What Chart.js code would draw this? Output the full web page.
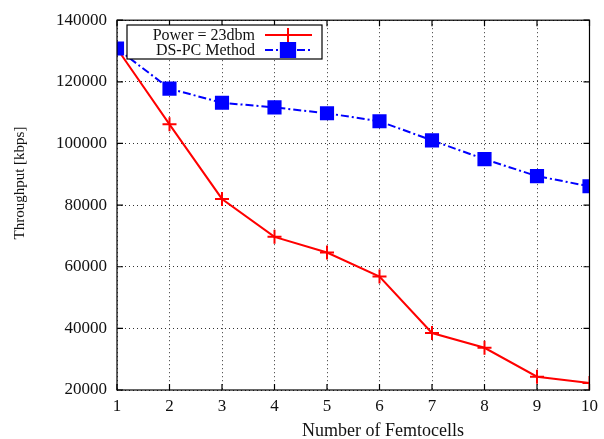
<!DOCTYPE html>
<html>
<head>
<meta charset="utf-8">
<script src="https://cdn.jsdelivr.net/npm/chart.js@4"></script>
<style>
  html, body { margin: 0; padding: 0; background: #fff; }
  #wrap { width: 604px; height: 439px; }
</style>
</head>
<body>
<div id="wrap"><canvas id="myChart" width="604" height="439"></canvas></div>
<script>
// data
const femtocells = [1, 2, 3, 4, 5, 6, 7, 8, 9, 10];
const power23dbm = [130800, 106200, 82000, 69700, 64600, 56800, 38500, 33700, 24300, 22300];
const dsPcMethod = [130800, 117800, 113200, 111700, 109800, 107200, 101000, 94900, 89400, 86100];
const yTicks = [20000, 40000, 60000, 80000, 100000, 120000, 140000];

const serif = "'Liberation Serif', 'DejaVu Serif', serif";

const toPoints = (xs, ys) => xs.map((x, i) => ({ x: x, y: ys[i] }));

// gnuplot-ish frame, inward ticks, axis titles and boxed legend
const gnuplotLook = {
  id: 'gnuplotLook',
  afterDraw(chart) {
    const ctx = chart.ctx;
    const a = chart.chartArea;
    const xs = chart.scales.x;
    const ys = chart.scales.y;
    ctx.save();

    // frame
    ctx.strokeStyle = '#000';
    ctx.lineWidth = 1.2;
    ctx.strokeRect(a.left, a.top, a.right - a.left, a.bottom - a.top);

    // inward ticks on all four sides
    const tl = 6;
    ctx.beginPath();
    femtocells.forEach(v => {
      const px = xs.getPixelForValue(v);
      ctx.moveTo(px, a.bottom); ctx.lineTo(px, a.bottom - tl);
      ctx.moveTo(px, a.top); ctx.lineTo(px, a.top + tl);
    });
    yTicks.forEach(v => {
      const py = ys.getPixelForValue(v);
      ctx.moveTo(a.left, py); ctx.lineTo(a.left + tl, py);
      ctx.moveTo(a.right, py); ctx.lineTo(a.right - tl, py);
    });
    ctx.stroke();

    // axis titles
    ctx.fillStyle = '#111';
    ctx.textAlign = 'center';
    ctx.textBaseline = 'middle';
    ctx.font = '18px ' + serif;
    ctx.fillText('Number of Femtocells', 383, 431);
    ctx.save();
    ctx.translate(20, 183);
    ctx.rotate(-Math.PI / 2);
    ctx.font = '15px ' + serif;
    ctx.fillText('Throughput [kbps]', 0, 0);
    ctx.restore();

    // legend box
    const bx = 127, by = 25, bw = 195, bh = 34;
    ctx.fillStyle = '#fff';
    ctx.fillRect(bx, by, bw, bh);
    ctx.lineWidth = 1.2;
    ctx.strokeStyle = '#000';
    ctx.strokeRect(bx, by, bw, bh);

    const rows = [35, 50];
    ctx.font = '16px ' + serif;
    ctx.textAlign = 'right';
    chart.data.datasets.forEach((ds, i) => {
      const y = rows[i];
      ctx.fillStyle = '#111';
      ctx.fillText(ds.label, 255, y + 1);
      ctx.strokeStyle = ds.borderColor;
      ctx.lineWidth = ds.borderWidth;
      ctx.setLineDash(ds.borderDash || []);
      ctx.beginPath();
      ctx.moveTo(265, y); ctx.lineTo(312, y);
      ctx.stroke();
      ctx.setLineDash([]);
      Chart.helpers.drawPoint(ctx, {
        pointStyle: ds.pointStyle,
        radius: ds.pointRadius,
        borderWidth: ds.pointBorderWidth || ds.borderWidth,
        rotation: 0
      }, 288, y);
      ctx.fillStyle = ds.pointBackgroundColor;
      ctx.strokeStyle = ds.pointBorderColor;
      ctx.lineWidth = ds.pointBorderWidth || ds.borderWidth;
      if (ds.pointStyle === 'rect') ctx.fill();
      ctx.stroke();
    });

    ctx.restore();
  }
};

new Chart(document.getElementById('myChart').getContext('2d'), {
  type: 'line',
  data: {
    datasets: [
      {
        label: 'Power = 23dbm',
        data: toPoints(femtocells, power23dbm),
        borderColor: '#ff0000',
        borderWidth: 2,
        pointStyle: 'cross',
        pointRadius: 7,
        pointBorderWidth: 2,
        pointBorderColor: '#ff0000',
        pointBackgroundColor: '#ff0000',
        tension: 0,
        order: 1
      },
      {
        label: 'DS-PC Method',
        data: toPoints(femtocells, dsPcMethod),
        borderColor: '#0000ff',
        borderWidth: 2,
        borderDash: [8, 3, 2, 3],
        pointStyle: 'rect',
        pointRadius: 10,
        pointBorderWidth: 0,
        pointBorderColor: '#0000ff',
        pointBackgroundColor: '#0000ff',
        tension: 0,
        order: 0
      }
    ]
  },
  options: {
    responsive: false,
    animation: false,
    layout: { padding: { top: 19, right: 8, left: 0, bottom: 0 } },
    plugins: {
      legend: { display: false },
      tooltip: { enabled: false }
    },
    scales: {
      x: {
        type: 'linear',
        min: 1,
        max: 10,
        afterFit: (s) => { s.height = 49; },
        ticks: {
          stepSize: 1,
          color: '#111',
          padding: 6,
          maxRotation: 0,
          font: { family: serif, size: 17 }
        },
        grid: { color: '#333', lineWidth: 1, drawTicks: false },
        border: { display: false, dash: [1, 3] }
      },
      y: {
        min: 20000,
        max: 140000,
        afterFit: (s) => { s.width = 117; },
        afterBuildTicks: (s) => { s.ticks = yTicks.map(v => ({ value: v })); },
        ticks: {
          color: '#111',
          padding: 10,
          callback: (v) => String(v),
          font: { family: serif, size: 17 }
        },
        grid: { color: '#333', lineWidth: 1, drawTicks: false },
        border: { display: false, dash: [1, 3] }
      }
    }
  },
  plugins: [gnuplotLook]
});
</script>
</body>
</html>
